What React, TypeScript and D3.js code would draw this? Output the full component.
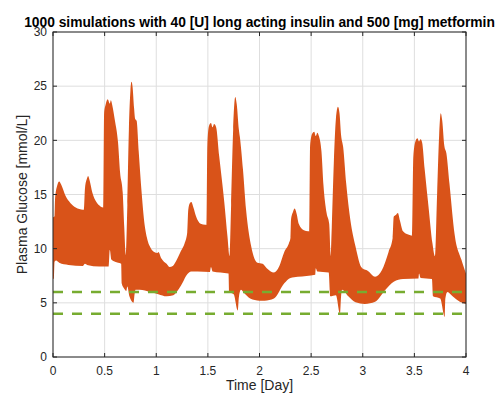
import React from "react";
import * as d3 from "d3";

// Upper envelope of the 1000 simulated traces (x in days, y in mmol/L)
const upperX = [
  0, 0.015, 0.02, 0.04, 0.06, 0.08, 0.12, 0.17, 0.22, 0.29, 0.3, 0.31, 0.33, 0.34, 0.355, 0.38, 0.42, 0.46, 0.487,
  0.495, 0.51, 0.53, 0.55, 0.56, 0.575, 0.6, 0.63, 0.65, 0.675, 0.69, 0.705,
  0.72, 0.735, 0.75, 0.76, 0.77, 0.785, 0.795, 0.81, 0.83, 0.86, 0.88, 0.91, 0.95, 0.98, 1.01, 1.02, 1.05, 1.1, 1.13, 1.16, 1.2, 1.24, 1.275, 1.3,
  1.31, 1.325, 1.34, 1.36, 1.385, 1.43, 1.475, 1.49,
  1.495, 1.51, 1.53, 1.545, 1.56, 1.58, 1.61, 1.64, 1.66, 1.69, 1.71,
  1.725, 1.745, 1.765, 1.78, 1.8, 1.81, 1.84, 1.87, 1.92, 1.98, 2.03, 2.07, 2.14, 2.19, 2.24, 2.285, 2.3,
  2.305, 2.325, 2.34, 2.36, 2.38, 2.43, 2.47, 2.485,
  2.49, 2.51, 2.53, 2.545, 2.56, 2.575, 2.6, 2.62, 2.65, 2.675, 2.69,
  2.7, 2.72, 2.74, 2.76, 2.775, 2.79, 2.81, 2.84, 2.88, 2.93, 2.985, 3.01, 3.04, 3.12, 3.185, 3.25, 3.29,
  3.3, 3.32, 3.34, 3.36, 3.39, 3.44, 3.48,
  3.49, 3.51, 3.53, 3.545, 3.56, 3.575, 3.6, 3.64, 3.675, 3.7,
  3.72, 3.74, 3.755, 3.77, 3.79, 3.81, 3.84, 3.89, 3.955, 4.0,
];
const upperY = [
  12.9, 13.0, 14.6, 15.8, 16.2, 15.9, 14.9, 14.2, 13.8, 13.6, 13.6, 15.6, 16.5, 16.7, 16.3, 15.2, 14.3, 13.9, 13.8,
  22.5, 23.3, 23.8, 23.4, 23.7, 23.2, 21.8, 19.8, 17.0, 15.2, 12.0, 9.4,
  14.0, 21.0, 24.6, 25.4, 25.0, 23.0, 22.0, 21.8, 19.0, 15.0, 12.8, 11.0, 10.0, 9.7, 9.6, 9.7, 9.1, 8.6, 8.3, 8.4, 9.0, 9.8, 10.5, 11.5,
  13.6, 14.2, 14.3, 13.8, 13.0, 12.3, 12.2, 12.2,
  19.5, 21.3, 21.6, 21.2, 21.5, 21.2, 18.5, 16.0, 14.2, 11.1, 9.3,
  14.0, 21.0, 24.0, 23.3, 21.0, 20.3, 17.3, 13.6, 10.2, 8.7, 8.6, 8.2, 7.8, 8.35, 9.7, 10.5, 11.0,
  12.65, 13.4, 13.7, 13.2, 12.3, 11.7, 11.6, 11.6,
  19.5, 20.6, 20.8, 20.4, 20.7, 20.4, 19.0, 15.8, 13.3, 12.3, 9.3,
  12.0, 18.0, 22.0, 23.1, 22.5, 20.5, 19.4, 16.0, 12.65, 10.2, 8.3, 8.1, 8.0, 7.4, 8.0, 9.7, 11.0,
  12.95, 13.1, 13.3, 12.6, 11.6, 11.3, 11.2,
  18.5, 19.9, 20.2, 19.9, 20.1, 19.8, 17.3, 13.6, 10.5, 9.3,
  15.0, 20.5, 22.5, 21.8, 19.5, 18.8, 16.0, 11.3, 9.0, 7.7,
];

// Lower envelope of the simulated traces
const lowerX = [
  0, 0.01, 0.015, 0.03, 0.06, 0.15, 0.29, 0.31, 0.33, 0.45, 0.54, 0.55, 0.565, 0.6, 0.66, 0.665, 0.69, 0.71, 0.72, 0.74, 0.78, 0.79, 0.8, 0.84, 0.94,
  1.02, 1.1, 1.165, 1.22, 1.26, 1.29, 1.34, 1.4, 1.52, 1.53, 1.545, 1.7, 1.705, 1.75, 1.79, 1.8, 1.82, 1.85, 1.91,
  2.0, 2.05, 2.14, 2.24, 2.3, 2.37, 2.54, 2.545, 2.56, 2.67, 2.685, 2.74, 2.78, 2.79, 2.8, 2.86, 2.93,
  3.02, 3.12, 3.22, 3.3, 3.39, 3.54, 3.545, 3.56, 3.67, 3.68, 3.75, 3.795, 3.8, 3.82, 3.87, 3.94, 4.0,
];
const lowerY = [
  7.2, 7.3, 8.8, 8.9, 8.7, 8.5, 8.4, 8.6, 8.5, 8.35, 8.35, 9.9, 9.0, 8.8, 8.6, 6.8, 6.3, 6.1, 6.5, 5.6, 5.0, 5.8, 6.2, 6.2, 6.0,
  5.8, 5.6, 5.7, 6.3, 6.95, 7.5, 7.9, 7.9, 7.85, 8.3, 7.9, 7.7, 6.0, 5.8, 4.3, 5.5, 6.2, 5.9, 5.4,
  5.2, 5.2, 5.4, 6.8, 7.3, 7.4, 7.6, 8.2, 7.9, 7.8, 5.6, 5.7, 4.0, 5.6, 6.2, 5.6, 5.05,
  4.9, 5.1, 6.2, 6.95, 7.2, 7.25, 7.7, 7.3, 7.2, 5.6, 5.4, 3.7, 5.4, 6.0, 5.6, 5.1, 4.9,
];

const limitLines = [4, 6];
const xTicks = [0, 0.5, 1, 1.5, 2, 2.5, 3, 3.5, 4];
const yTicks = [0, 5, 10, 15, 20, 25, 30];
const titleText = "1000 simulations with 40 [U] long acting insulin and 500 [mg] metformin";
const xLabel = "Time [Day]";
const yLabel = "Plasma Glucose [mmol/L]";

const W = 503;
const H = 395;
const M = { left: 53, right: 466, top: 32, bottom: 357 };
const FONT = "'Liberation Sans', Arial, Helvetica, sans-serif";
const AXIS = "#262626";
const GRID = "#dedede";
const ORANGE = "#D95319";
const GREEN = "#77AC30";

export default function App() {
  const x = d3.scaleLinear().domain([0, 4]).range([M.left, M.right]);
  const y = d3.scaleLinear().domain([0, 30]).range([M.bottom, M.top]);

  const upper: [number, number][] = upperX.map((v, i) => [v, upperY[i]]);
  const lower: [number, number][] = lowerX.map((v, i) => [v, lowerY[i]]);

  // area under the upper envelope
  const underUpper = d3
    .area<[number, number]>()
    .x((d) => x(d[0]))
    .y0(M.bottom + 20)
    .y1((d) => y(d[1]))
    .curve(d3.curveMonotoneX)(upper) || "";
  // area above the lower envelope (used as clip)
  const aboveLower = d3
    .area<[number, number]>()
    .x((d) => x(d[0]))
    .y0(M.top - 20)
    .y1((d) => y(d[1]))
    .curve(d3.curveMonotoneX)(lower) || "";

  const tickLen = 4;

  return (
    <svg
      width={W}
      height={H}
      style={{ position: "absolute", left: 0, top: 0, background: "#fff" }}
      fontFamily={FONT}
    >
      <defs>
        <clipPath id="plotClip">
          <rect x={M.left} y={M.top} width={M.right - M.left} height={M.bottom - M.top} />
        </clipPath>
        <clipPath id="lowerClip">
          <path d={aboveLower} />
        </clipPath>
      </defs>
      <rect x={0} y={0} width={W} height={H} fill="#fff" />
      {/* grid */}
      {xTicks.map((t) => (
        <line key={"gx" + t} x1={x(t)} x2={x(t)} y1={M.top} y2={M.bottom} stroke={GRID} strokeWidth={1} />
      ))}
      {yTicks.map((t) => (
        <line key={"gy" + t} x1={M.left} x2={M.right} y1={y(t)} y2={y(t)} stroke={GRID} strokeWidth={1} />
      ))}
      {/* band */}
      <g clipPath="url(#plotClip)">
        <g clipPath="url(#lowerClip)">
          <path d={underUpper} fill={ORANGE} />
        </g>
        {limitLines.map((v) => (
          <line
            key={"lim" + v}
            x1={x(0)}
            x2={x(4)}
            y1={y(v)}
            y2={y(v)}
            stroke={GREEN}
            strokeWidth={2.5}
            strokeDasharray="10 9"
          />
        ))}
      </g>
      {/* axes box */}
      <rect
        x={M.left}
        y={M.top}
        width={M.right - M.left}
        height={M.bottom - M.top}
        fill="none"
        stroke={AXIS}
        strokeWidth={1}
      />
      {xTicks.map((t) => (
        <g key={"tx" + t}>
          <line x1={x(t)} x2={x(t)} y1={M.bottom} y2={M.bottom - tickLen} stroke={AXIS} />
          <line x1={x(t)} x2={x(t)} y1={M.top} y2={M.top + tickLen} stroke={AXIS} />
          <text x={x(t)} y={375} textAnchor="middle" fontSize={12} fill={AXIS}>
            {String(t)}
          </text>
        </g>
      ))}
      {yTicks.map((t) => (
        <g key={"ty" + t}>
          <line x1={M.left} x2={M.left + tickLen} y1={y(t)} y2={y(t)} stroke={AXIS} />
          <line x1={M.right} x2={M.right - tickLen} y1={y(t)} y2={y(t)} stroke={AXIS} />
          <text x={47} y={y(t) + 4.3} textAnchor="end" fontSize={12} fill={AXIS}>
            {String(t)}
          </text>
        </g>
      ))}
      <text x={(M.left + M.right) / 2} y={390} textAnchor="middle" fontSize={14} fill={AXIS}>
        {xLabel}
      </text>
      <text
        transform={`translate(27, ${(M.top + M.bottom) / 2}) rotate(-90)`}
        textAnchor="middle"
        fontSize={14}
        fill={AXIS}
      >
        {yLabel}
      </text>
      <text
        x={(M.left + M.right) / 2}
        y={27}
        textAnchor="middle"
        fontSize={13.8}
        fontWeight="bold"
        fill="#000"
      >
        {titleText}
      </text>
    </svg>
  );
}
